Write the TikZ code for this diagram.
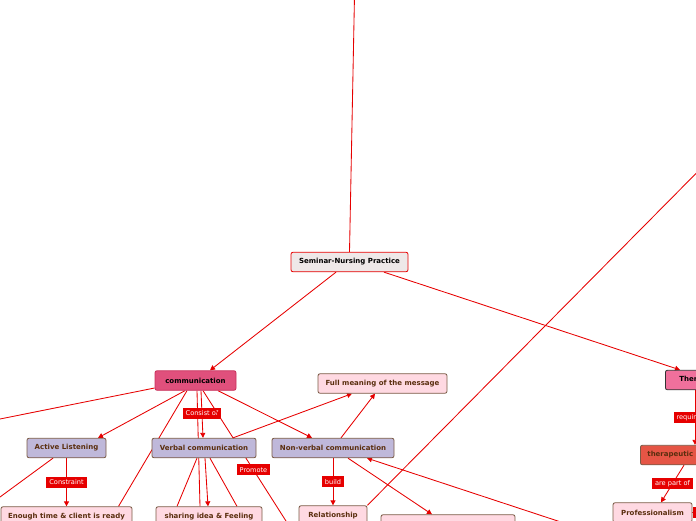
\documentclass[tikz,border=0pt]{standalone}
\usepackage{fontspec}
\setmainfont{DejaVu Sans}
\usetikzlibrary{arrows.meta}

\definecolor{linkred}{HTML}{E60000}
\definecolor{rootgray}{HTML}{EEE8E8}
\definecolor{commpink}{HTML}{E0507C}
\definecolor{commedge}{HTML}{C8305A}
\definecolor{therpink}{HTML}{F0709C}
\definecolor{tomato}{HTML}{E55545}
\definecolor{lavender}{HTML}{BFB8DA}
\definecolor{leafpink}{HTML}{FFD9E2}
\definecolor{nodebrown}{HTML}{7A5A45}
\definecolor{textbrown}{HTML}{5A2E0E}

\pgfdeclarelayer{bg}
\pgfsetlayers{bg,main}

\begin{document}
\begin{tikzpicture}[x=1pt, y=-1pt,
  every node/.style={rectangle, rounded corners=2pt, align=center, font=\bfseries\fontsize{7}{8}\selectfont, minimum height=19.5pt, inner xsep=7pt, inner ysep=2pt, line width=0.8pt},
  topic/.style={draw=nodebrown, fill=lavender, text=textbrown},
  leaf/.style={draw=nodebrown, fill=leafpink, text=textbrown},
  tag/.style={fill=linkred, text=white, font=\fontsize{6.6}{7}\selectfont, minimum height=11pt, inner xsep=3pt, inner ysep=1pt, rounded corners=0pt, draw=none},
  link/.style={draw=linkred, line width=0.85pt},
  linkto/.style={link, -{Triangle[width=5pt,length=5pt]}}]

\useasboundingbox (0,0) rectangle (696,520);
\clip (0,0) rectangle (696,520);

% Main topics
\node (seminar) [draw=linkred, fill=rootgray, minimum width=117pt] at (349.5,262) {Seminar-Nursing Practice};
\node (comm) [draw=commedge, fill=commpink, minimum width=81pt] at (195.5,380.5) {communication};
\node (ther) [anchor=west, draw=black!80, fill=therpink, inner xsep=14pt] at (665,380) {Therapeutic Communication};

% Branches
\node (full) [leaf, minimum width=129pt] at (382.5,383.5) {Full meaning of the message};
\node (active) [topic, minimum width=79pt] at (66.5,448) {Active Listening};
\node (verbal) [topic, minimum width=104pt] at (204,448) {Verbal communication};
\node (nonverbal) [topic, minimum width=122pt] at (333,448) {Non-verbal communication};
\node (therap) [anchor=west, draw=nodebrown, fill=tomato, text=textbrown] at (640,455) {therapeutic relationship};

% Leaves
\node (enough) [leaf, minimum width=131pt] at (66.5,516.5) {Enough time \& client is ready};
\node (sharing) [leaf, minimum width=106pt] at (209,516.5) {sharing idea \& Feeling};
\node (relation) [leaf, minimum width=68pt] at (333,515.5) {Relationship};
\node (lower) [leaf, minimum width=134pt] at (448,524.5) {};
\node (prof) [leaf, minimum width=79pt] at (652.5,512.5) {Professionalism};

% Free ends outside the frame
\coordinate (root) at (355,-30);
\coordinate (upright) at (740,129);
\coordinate (farleft) at (-40,427);
\coordinate (below) at (300,543);
\coordinate (lowleft) at (-30,519);
\coordinate (lowright) at (620,541.5);
\coordinate (farright) at (760,512.5);

\begin{pgfonlayer}{bg}
\draw[link] (root) -- (seminar.north);
\draw[linkto] ([xshift=-13.5pt]seminar.south) -- ([xshift=14.5pt]comm.north);
\draw[linkto] ([xshift=34.5pt]seminar.south) -- ([xshift=15pt]ther.north west);
\draw[link] (relation.north east) -- (upright);

% communication links
\draw[link] ([yshift=-7.5pt]comm.west) -- (farleft);
\draw[linkto] ([xshift=-10.5pt]comm.south) -- ([xshift=31.5pt]active.north);
\draw[link] ([xshift=-8.5pt]comm.south) -- ([xshift=52pt]enough.north);
\draw[link] ([xshift=1.5pt]comm.south) -- ([xshift=-9pt]sharing.north);
\draw[linkto] ([xshift=5.5pt]comm.south) -- ([xshift=-1pt]verbal.north) node[tag, pos=0.48] {Consist of};
\draw[link] ([xshift=7.5pt]comm.south) -- (below) node[tag, pos=0.52] {Promote};
\draw[linkto] ([xshift=22.5pt]comm.south) -- ([xshift=-21pt]nonverbal.north);

% verbal links
\draw[linkto] ([xshift=1pt]verbal.south) -- ([xshift=-1pt]sharing.north);
\draw[link] ([xshift=-7pt]verbal.south) -- ([xshift=-32pt]sharing.north);
\draw[link] ([xshift=6pt]verbal.south) -- ([xshift=28pt]sharing.north);
\draw[linkto] ([xshift=29pt]verbal.north) -- ([xshift=-30.5pt]full.south);

% active listening links
\draw[linkto] (active) -- (enough) node[tag, midway] {Constraint};
\draw[link] ([xshift=-13.5pt]active.south) -- (lowleft);

% non-verbal links
\draw[linkto] ([xshift=8pt]nonverbal.north) -- ([xshift=-7.5pt]full.south);
\draw[linkto] (nonverbal) -- (relation) node[tag, midway] {build};
\draw[linkto] ([xshift=15pt]nonverbal.south) -- ([xshift=-16pt]lower.north);
\draw[linkto] (lowright) -- ([xshift=34pt]nonverbal.south);

% therapeutic links
\draw[linkto] ([xshift=30pt]ther.south west) -- ([xshift=55pt]therap.north west) node[tag, midway, xshift=-5pt] {requires};
\draw[linkto] ([xshift=44pt]therap.south west) -- ([xshift=8.5pt]prof.north) node[tag, midway] {are part of};
\draw[link] (prof.east) -- (farright) node[tag, pos=0.16, minimum width=20pt] {};
\end{pgfonlayer}
\end{tikzpicture}
\end{document}
